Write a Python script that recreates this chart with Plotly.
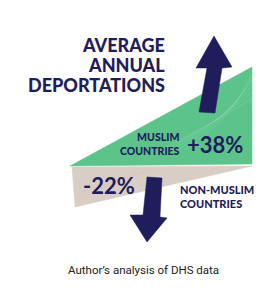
import plotly.graph_objects as go

# ---- data ----
categories = ["MUSLIM<br>COUNTRIES", "NON-MUSLIM<br>COUNTRIES"]
changes = [38, -22]  # % change in average annual deportations
title_lines = ["AVERAGE", "ANNUAL", "DEPORTATIONS"]
source_note = "Author’s analysis of DHS data"

NAVY = "#1f1d5c"
GREEN = "#5cc48b"
BEIGE = "#d9cec6"

fig = go.Figure()

def poly(xs, ys, color, line_color=None):
    fig.add_trace(go.Scatter(
        x=xs + [xs[0]], y=ys + [ys[0]], mode="lines", fill="toself",
        fillcolor=color, line=dict(color=line_color or color, width=0.5),
        hoverinfo="skip", showlegend=False))

# beige (decline) wedge
poly([72, 252, 75], [167, 166, 207], BEIGE)
# green (increase) wedge
poly([70, 252, 252], [166, 67, 164], GREEN)

# subtle contour-like lines on the wedges
for off in [0, 6, 12, 18, 24]:
    fig.add_trace(go.Scatter(
        x=[160 + off, 195 + off, 230 + off * 0.5, 252],
        y=[150, 132 - off * 0.4, 112 - off * 0.8, 98 - off],
        mode="lines", line=dict(color="rgba(255,255,255,0.22)", width=0.6,
                                shape="spline"),
        hoverinfo="skip", showlegend=False))
for off in [0, 6, 12]:
    fig.add_trace(go.Scatter(
        x=[80, 110 + off, 140 + off * 2],
        y=[200 - off * 0.6, 185 - off * 0.5, 168],
        mode="lines", line=dict(color="rgba(230,170,170,0.35)", width=0.6,
                                shape="spline"),
        hoverinfo="skip", showlegend=False))

# up arrow (increase)
poly([214, 232, 222, 215, 199, 207, 196],
     [36, 67, 68, 113, 112, 68, 68], NAVY)
# down arrow (decrease)
poly([147, 162, 160, 167, 147, 130, 143],
     [177, 178, 217, 218, 242, 215, 215], NAVY)

ann = []
title_y = [45, 65, 85]
for t, y in zip(title_lines, title_y):
    ann.append(dict(x=167, y=y, text=t, xanchor="right", yanchor="middle",
                    font=dict(family="Lato", size=18, color=NAVY, weight=900)))

ann.append(dict(x=182, y=144, text=categories[0], xanchor="right", yanchor="middle",
                align="right",
                font=dict(family="Lato", size=10.5, color=NAVY, weight=900)))
ann.append(dict(x=185, y=144, text=f"+{changes[0]}%", xanchor="left", yanchor="middle",
                font=dict(family="Lato", size=22, color=NAVY, weight=700)))
ann.append(dict(x=81, y=185, text=f"-{abs(changes[1])}%", xanchor="left", yanchor="middle",
                font=dict(family="Lato", size=22, color=NAVY, weight=700)))
ann.append(dict(x=178, y=196, text=categories[1], xanchor="left", yanchor="middle",
                align="left",
                font=dict(family="Lato", size=11, color=NAVY, weight=900)))
ann.append(dict(x=143, y=270, text=source_note, xanchor="center", yanchor="middle",
                font=dict(family="Roboto", size=11.5, color="#222222")))

for a in ann:
    a.update(xref="x", yref="y", showarrow=False)

fig.update_layout(
    width=277, height=300, margin=dict(l=0, r=0, t=0, b=0),
    paper_bgcolor="white", plot_bgcolor="white",
    xaxis=dict(range=[0, 277], visible=False, fixedrange=True),
    yaxis=dict(range=[300, 0], visible=False, fixedrange=True),
    annotations=ann, showlegend=False,
)

fig.write_html("out.html")
